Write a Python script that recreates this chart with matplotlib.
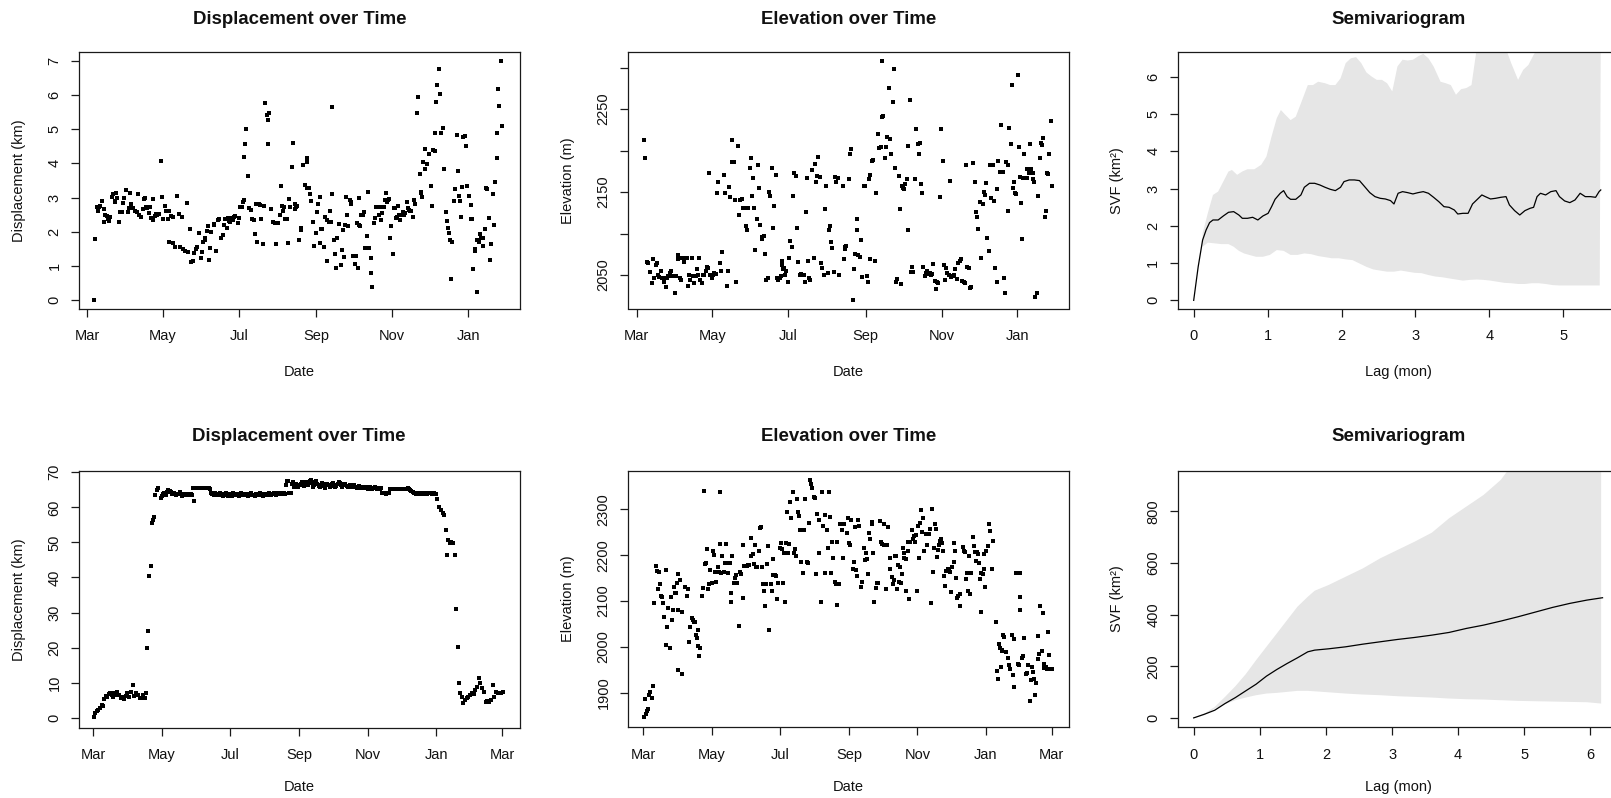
import numpy as np
import matplotlib
matplotlib.use("Agg")
import matplotlib.pyplot as plt
import matplotlib.dates as mdates

plt.rcParams['font.family'] = ['Liberation Sans', 'DejaVu Sans']

W, H = 1611, 798
START = np.datetime64('2021-03-01')

# ---------------- Data (days since 2021-03-01, value) ----------------
# Row 1: displacement (km)
disp_top = [(5.9,0.00),(6.7,1.80),(7.8,2.73),(9.4,2.73),(10.4,2.76),(8.8,2.62),(12.0,2.90),(13.4,2.66),(13.9,2.29),(14.7,2.49),(17.1,2.37),(15.8,2.47),(18.7,2.44),(17.7,2.32),(20.1,3.03),(21.1,3.10),(23.3,3.14),(22.7,2.86),(22.2,2.90),(24.1,3.00),(25.4,2.29),(26.8,2.59),(28.1,2.57),(29.2,2.84),(30.0,2.98),(31.3,3.22),(32.6,2.59),(33.4,2.69),(34.5,3.14),(35.6,2.82),(37.2,2.69),(38.3,2.62),(39.9,2.59),(40.9,3.10),(42.0,2.49),(43.3,2.42),(44.7,2.67),(45.7,2.96),(46.5,3.00),(47.3,2.73),(48.2,2.69),(49.5,2.54),(50.6,2.71),(51.6,2.39),(52.7,2.96),(53.2,2.33),(54.3,2.47),(55.4,2.51),(56.4,2.49),(57.5,2.51),(59.1,4.07),(60.2,3.02),(61.3,2.37),(62.3,2.74),(63.4,2.62),(64.7,2.37),(66.1,2.62),(67.7,2.47),(68.8,2.44),(72.2,3.06),(73.6,2.51),(76.2,2.44),(80.3,2.85),(65.5,1.71),(68.8,1.68),(70.6,1.56),(74.6,1.55),(77.3,1.49),(78.4,1.44),(81.1,1.42),(82.4,2.08),(83.5,1.10),(84.8,1.14),(86.1,1.37),(87.5,1.49),(88.5,1.55),(90.1,1.96),(91.2,1.22),(92.3,1.42),(93.4,1.71),(94.4,1.81),(95.0,1.76),(96.0,2.03),(97.1,2.17),(98.2,1.18),(99.0,1.51),(99.5,2.00),(101.6,2.23),(102.2,2.20),(103.5,1.44),(104.9,2.34),(105.7,2.36),(107.8,1.81),(108.9,1.90),(109.7,2.20),(110.5,2.36),(112.1,2.10),(112.9,2.39),(114.2,2.32),(115.0,2.29),(116.1,2.41),(116.9,2.34),(118.2,2.44),(119.0,2.47),(120.9,2.25),(121.7,2.39),(122.8,2.73),(124.1,2.73),(124.9,2.88),(125.7,2.93),(125.7,4.19),(126.8,4.56),(127.9,5.01),(128.9,3.63),(130.3,2.69),(131.3,2.64),(132.4,2.37),(133.8,2.34),(135.1,1.92),(135.6,2.80),(136.7,1.71),(137.8,2.80),(139.1,2.78),(139.9,2.36),(141.0,1.64),(142.3,2.76),(143.1,5.78),(144.2,5.42),(145.5,5.28),(146.3,5.49),(145.5,4.56),(147.7,2.66),(149.0,2.28),(150.9,2.25),(151.7,1.63),(152.5,2.25),(153.3,2.25),(154.9,2.49),(155.4,3.34),(156.5,2.76),(157.0,2.62),(158.1,2.71),(159.2,2.37),(160.2,2.37),(161.3,1.68),(162.4,2.95),(162.9,2.73),
(164.5,3.91),(165.6,4.60),(167.2,2.82),(168.0,2.73),(166.7,2.66),(168.8,2.76),(170.1,1.76),(171.5,2.12),(172.0,2.05),(173.4,3.96),(175.2,3.37),(176.3,4.03),(176.8,4.15),(176.3,3.29),(177.9,3.27),(178.7,3.11),(180.0,2.90),(181.4,2.29),(182.2,1.59),(183.5,1.95),(184.9,2.59),(185.4,2.82),(186.7,3.03),(187.3,1.68),(188.1,2.09),(188.9,2.09),(190.2,1.56),(191.3,2.44),(192.4,1.14),(192.9,2.33),(194.7,2.62),(193.9,2.29),(196.1,2.29),(196.9,3.10),(196.9,5.65),(198.0,1.76),(198.8,1.35),(200.1,0.95),(200.9,1.81),(202.0,2.23),(203.6,1.03),(204.7,1.47),(205.7,2.05),(206.3,1.27),(206.8,2.20),(208.1,3.03),(208.9,2.49),(209.5,2.17),(211.1,2.93),(211.6,2.88),(212.2,2.80),(213.5,1.28),(214.8,1.28),(216.1,1.28),(214.8,1.05),(217.5,0.95),(216.7,2.26),(218.0,2.20),(218.8,2.17),(218.0,2.98),(220.2,2.49),(221.2,2.49),(222.3,2.59),(223.4,1.51),(224.4,1.88),(225.5,3.15),(226.6,1.51),(227.6,1.24),(227.6,0.78),(228.7,0.37),(230.3,2.25),(231.4,2.39),(232.2,2.73),(233.5,2.73),(234.1,2.49),(234.9,2.73),(236.2,2.33),(236.8,2.54),(238.4,2.73),(238.9,2.93),(240.0,3.14),(240.5,2.88),(241.6,2.93),(242.6,2.96),(243.2,1.81),(244.2,2.17),(245.3,1.35),(246.4,2.69),(247.5,2.69),(248.3,2.39),(249.0,2.44),(249.6,2.76),(250.7,2.49),(251.2,2.34),(252.3,2.49),(253.3,2.57),(254.4,2.49),(255.5,2.54),(256.5,2.86),(257.6,2.69),(258.2,2.64),(259.2,2.62),(260.3,2.62),(261.4,2.43),(262.4,2.93),(263.2,2.80),(264.8,5.49),(265.6,5.94),(267.0,3.68),(267.8,3.17),(268.3,3.13),(268.9,3.03),(269.9,4.03),(271.0,3.83),(271.6,4.42),(273.2,3.98),(274.2,4.29),(275.8,3.34),(276.9,2.76),(278.0,4.38),(279.1,4.35),(279.1,4.88),(280.1,5.81),(281.2,6.30),(282.3,6.76),(283.3,6.03),(284.4,4.88),(285.7,5.05),(286.8,3.83),(287.9,2.59),(288.9,2.32),(289.7,2.12),(290.8,1.95),(291.6,1.76),(292.4,0.62),(293.2,1.71),(294.5,2.90),(295.6,3.25),(296.7,4.83),(297.8,3.79),(298.8,3.06),(299.4,2.90),(300.2,2.44),(301.0,3.30),(302.1,4.76),(303.1,4.80),(304.2,4.52),(305.3,3.34),(306.6,3.06),(307.9,2.78),(308.5,2.37),(309.3,2.37),(310.1,0.91),(311.2,1.44),(311.7,1.49),(312.8,1.76),(313.3,0.24),(314.4,1.71),(315.4,1.92),(316.5,1.81),(317.6,1.81),(318.1,1.59),(319.2,2.07),(320.2,3.29),(321.3,3.25),(322.4,2.41),(323.2,1.18),(324.5,1.63),(325.6,3.10),(326.6,2.20),(327.7,3.47),(328.8,4.15),(328.8,4.88),(329.8,6.18),(330.9,5.68),(332.0,7.00),(333.3,5.09)]

# Row 1: elevation (m)
elev_top = [(6.0,2212.4),(6.8,2190.7),(8.2,2066.1),(9.5,2064.1),(10.8,2053.2),(12.2,2040.0),(13.5,2068.9),(14.3,2046.8),(15.4,2062.1),(16.2,2064.1),(17.0,2050.0),(18.1,2047.2),(19.4,2055.2),(20.8,2046.0),(21.8,2046.8),(22.4,2041.2),(23.4,2035.1),(24.5,2046.0),(25.6,2048.8),(26.6,2052.8),(27.7,2054.8),(28.8,2049.2),(29.9,2049.2),(30.9,2028.7),(32.0,2049.2),(33.1,2074.1),(33.6,2068.9),(34.7,2046.0),(35.7,2044.0),(36.8,2070.9),(37.9,2066.1),(39.0,2070.9),(40.3,2070.9),(41.1,2037.1),(42.2,2050.0),(43.0,2044.0),(44.3,2070.1),(45.6,2049.2),(46.5,2040.8),(47.5,2049.2),(48.3,2057.2),(49.1,2050.0),(50.2,2070.9),(51.3,2044.0),(52.3,2040.8),(53.4,2050.0),(54.5,2050.0),(55.6,2055.2),(56.6,2060.0),(57.2,2058.0),(58.2,2172.6),(59.0,2050.0),(60.4,2046.0),(61.4,2050.0),(62.5,2052.0),(63.6,2050.8),(64.7,2149.3),(65.7,2162.5),(67.1,2064.1),(67.9,2055.2),(68.9,2077.3),(70.0,2170.6),(71.1,2149.3),(72.4,2037.1),(73.8,2055.2),(74.3,2155.7),(75.4,2143.6),(76.4,2212.4),(77.0,2185.9),(78.0,2185.9),(79.1,2140.4),(80.2,2042.0),(81.3,2205.9),(82.3,2122.3),(83.4,2140.8),(84.5,2141.6),(85.5,2130.4),(86.6,2130.4),(87.7,2109.1),(88.8,2104.3),(89.8,2130.4),(90.9,2179.4),(91.9,2190.7),(92.5,2145.7),(93.6,2166.6),(94.1,2130.4),(95.2,2080.5),(96.5,2117.5),(97.3,2182.6),(98.4,2154.5),(99.2,2110.3),(100.5,2093.4),(101.1,2096.2),(102.1,2097.4),(103.2,2075.3),(104.3,2044.0),(105.4,2046.0),(106.4,2150.5),(107.5,2145.7),(108.6,2179.4),(109.9,2107.1),(110.7,2133.6),(111.8,2170.6),(112.9,2046.0),(113.9,2044.0),(115.0,2046.8),(116.1,2048.8),(116.6,2062.1),(117.1,2066.9),(117.9,2057.2),(118.7,2058.8),(119.3,2050.0),(120.3,2054.8),(121.4,2042.0),(122.5,2070.9),(123.6,2091.0),(124.6,2084.2),(125.4,2145.7),(126.8,2172.6),(127.8,2169.8),(128.9,2106.3),(130.0,2065.3),(131.1,2050.0),(132.1,2050.8),(133.2,2050.0),(134.3,2050.0),(135.3,2042.0),(135.9,2125.6),(136.7,2167.4),(137.5,2066.9),(138.6,2046.8),(139.6,2043.6),(140.7,2176.6),(142.3,2070.9),(143.4,2184.2),(144.5,2162.5),(145.0,2169.8),(146.1,2192.3),(147.1,2167.8),(148.2,2064.1),(149.3,2058.8),(150.3,2050.0),(151.4,2129.2),(152.5,2157.7),(153.5,2052.0),(154.6,2104.3),(155.7,2109.1),(156.2,2090.2),(157.3,2082.2),(158.9,2054.0),(159.4,2167.8),(160.5,2161.7),(162.1,2167.4),(162.7,2050.0),
(165.9,2157.3),(167.2,2080.9),(168.5,2085.0),(166.7,2068.9),(167.7,2084.2),(170.4,2165.4),(171.5,2195.9),(172.5,2202.3),(173.6,2019.9),(174.7,2057.2),(175.8,2075.3),(177.1,2117.5),(177.1,2103.9),(177.9,2074.1),(179.3,2072.1),(180.3,2092.2),(181.4,2047.2),(182.7,2157.7),(183.8,2157.7),(184.9,2049.2),(186.0,2042.0),(187.0,2165.4),(187.8,2170.6),(187.3,2068.9),(189.4,2187.5),(190.2,2189.1),(191.3,2066.9),(192.6,2149.3),(193.7,2219.6),(195.0,2202.7),(196.1,2204.7),(196.9,2240.9),(197.7,2242.1),(196.9,2308.0),(199.3,2190.7),(200.6,2204.7),(201.5,2216.0),(202.6,2275.9),(203.6,2214.0),(204.7,2195.9),(206.0,2259.0),(206.8,2298.0),(207.4,2179.4),(208.4,2042.0),(209.2,2045.2),(210.6,2169.4),(211.4,2129.2),(212.7,2038.7),(213.5,2157.3),(214.3,2154.5),(215.1,2153.7),(215.9,2159.3),(217.0,2165.8),(217.8,2103.9),(218.0,2205.9),(219.4,2261.0),(220.7,2054.0),(222.1,2054.0),(221.3,2060.0),(223.4,2165.8),(224.8,2226.0),(226.1,2207.6),(227.2,2195.9),(228.0,2209.6),(228.3,2159.3),(229.3,2149.3),(230.4,2060.0),(231.5,2049.2),(232.8,2052.0),(233.6,2054.8),(234.1,2050.8),(235.5,2052.0),(236.3,2050.0),(237.4,2050.8),(238.2,2063.3),(239.5,2043.2),(240.3,2033.1),(241.1,2042.0),(242.2,2040.0),(243.5,2144.5),(244.8,2226.0),(246.2,2187.5),(247.0,2062.1),(248.0,2044.0),(248.9,2058.0),(249.7,2052.8),(251.0,2050.0),(251.8,2163.7),(252.9,2048.0),(254.2,2048.8),(255.0,2050.0),(256.1,2057.2),(257.2,2045.2),(258.2,2064.9),(259.6,2066.9),(260.9,2068.9),(261.7,2043.2),(263.0,2042.0),(264.1,2040.0),(264.9,2182.6),(265.7,2060.0),(266.8,2058.0),(268.1,2033.9),(268.9,2035.1),(270.3,2185.5),(271.6,2162.5),(272.7,2125.6),(273.8,2120.3),(274.3,2105.5),(275.6,2138.4),(277.0,2070.9),(278.0,2135.2),(279.1,2150.5),(279.6,2146.5),(280.7,2160.5),(281.5,2094.2),(282.8,2078.9),(283.9,2182.6),(285.0,2182.6),(286.1,2182.6),(285.0,2142.4),(287.1,2139.2),(288.2,2058.8),(289.3,2153.7),(289.8,2042.0),(290.6,2187.5),(291.7,2174.6),(292.5,2230.9),(293.0,2174.6),(294.4,2174.6),(295.2,2046.8),(296.0,2028.7),(297.0,2185.9),(298.4,2182.6),(298.4,2127.6),(299.5,2227.7),(300.5,2207.6),(301.6,2279.1),(302.2,2155.3),(303.2,2162.5),(303.8,2149.3),(305.1,2147.3),(306.4,2291.2),(306.9,2204.3),(308.0,2168.6),(309.1,2137.2),(309.6,2093.8),(310.7,2166.6),(311.5,2195.9),(312.3,2166.6),(313.4,2167.4),(313.9,2177.4),(315.0,2172.6),(315.8,2207.6),(317.1,2177.4),(318.2,2165.4),(318.7,2172.6),(319.3,2162.5),(320.3,2023.9),(321.4,2028.7),(322.5,2145.7),(323.8,2190.7),(324.6,2209.6),(325.7,2206.8),(326.8,2214.8),(327.8,2120.3),(328.9,2127.6),(330.0,2173.4),(330.5,2171.4),(331.6,2195.9),(332.7,2235.7),(333.7,2157.7)]

# Row 1: semivariogram (lag in months, SVF in km^2)
svf_top_lag = [0,0.061,0.121,0.168,0.215,0.261,0.331,0.401,0.471,0.541,0.611,0.658,0.728,0.798,0.868,0.937,1.007,1.054,1.101,1.171,1.217,1.264,1.311,1.381,1.451,1.497,1.567,1.637,1.707,1.777,1.847,1.917,1.987,2.034,2.104,2.174,2.243,2.313,2.383,2.453,2.523,2.593,2.663,2.710,2.766,2.826,2.896,2.966,3.036,3.106,3.176,3.246,3.316,3.386,3.456,3.526,3.573,3.643,3.713,3.773,3.829,3.899,3.946,4.016,4.086,4.156,4.226,4.272,4.342,4.412,4.482,4.552,4.599,4.646,4.692,4.762,4.832,4.902,4.949,5.019,5.089,5.159,5.229,5.298,5.368,5.438,5.485,5.508]
svf_top = [0,0.904,1.621,1.889,2.087,2.158,2.158,2.266,2.364,2.382,2.292,2.203,2.203,2.230,2.158,2.266,2.337,2.516,2.713,2.875,2.946,2.785,2.713,2.713,2.830,3.036,3.143,3.143,3.098,3.036,2.982,2.946,3.036,3.188,3.233,3.233,3.215,3.054,2.892,2.785,2.740,2.722,2.678,2.588,2.875,2.919,2.892,2.857,2.892,2.919,2.875,2.767,2.651,2.516,2.498,2.427,2.319,2.337,2.337,2.588,2.695,2.830,2.785,2.722,2.740,2.767,2.785,2.561,2.409,2.292,2.409,2.472,2.498,2.785,2.875,2.830,2.919,2.946,2.785,2.669,2.624,2.695,2.875,2.785,2.785,2.767,2.919,2.964]
ci_top_hi_lag = [0.121,0.191,0.261,0.331,0.401,0.471,0.518,0.588,0.658,0.728,0.821,0.914,0.984,1.054,1.124,1.180,1.241,1.311,1.381,1.451,1.544,1.614,1.684,1.777,1.847,1.917,1.987,2.057,2.127,2.197,2.267,2.337,2.407,2.477,2.547,2.617,2.687,2.757,2.826,2.896,2.966,3.036,3.106,3.176,3.246,3.340,3.410,3.479,3.549,3.619,3.689,3.759,3.829,3.923,4.039,4.156,4.226,4.296,4.389,4.459,4.529,4.599,4.669,4.762,4.949,5.136,5.508]
ci_top_hi = [1.80,2.34,2.83,2.92,3.19,3.46,3.50,3.37,3.46,3.52,3.52,3.64,3.86,4.40,4.89,5.11,4.98,4.84,4.93,5.29,5.78,5.78,5.87,5.83,5.78,5.78,5.96,6.37,6.50,6.53,6.37,6.12,6.01,5.92,5.92,5.83,5.61,6.28,6.46,6.44,6.46,6.55,6.62,6.50,6.28,5.87,5.83,5.78,5.52,5.67,5.70,5.78,6.75,7.00,7.20,7.00,6.75,6.37,5.92,6.19,6.32,6.59,6.80,7.00,7.20,7.20,7.20]
ci_top_lo_lag = [0.121,0.191,0.285,0.378,0.471,0.541,0.611,0.681,0.751,0.844,0.937,1.031,1.124,1.217,1.311,1.404,1.497,1.590,1.684,1.777,1.870,1.964,2.057,2.150,2.243,2.337,2.430,2.523,2.617,2.710,2.803,2.896,2.990,3.083,3.176,3.270,3.363,3.456,3.549,3.643,3.736,3.829,3.923,4.016,4.109,4.203,4.296,4.389,4.482,4.576,4.669,4.762,4.856,4.949,5.136,5.322,5.494]
ci_top_lo = [1.44,1.55,1.53,1.51,1.51,1.44,1.33,1.26,1.22,1.17,1.17,1.22,1.35,1.33,1.22,1.22,1.26,1.24,1.19,1.16,1.13,1.13,1.10,1.08,0.99,0.90,0.83,0.80,0.77,0.77,0.80,0.77,0.74,0.73,0.68,0.64,0.62,0.59,0.56,0.53,0.55,0.56,0.55,0.53,0.50,0.47,0.46,0.44,0.44,0.46,0.46,0.44,0.41,0.40,0.40,0.40,0.40]

# Row 2: displacement (km)
disp_bot = [(0.6,0.29),(1.8,1.24),(3.1,2.00),(4.3,2.19),(5.8,2.66),(7.4,3.61),(8.3,3.33),(9.8,5.23),(11.4,6.18),(12.6,5.99),(13.8,6.75),(15.1,6.94),(16.3,6.47),(17.5,5.99),(18.8,7.13),(20.0,6.47),(21.2,7.42),(22.8,6.47),(24.3,5.52),(25.8,5.99),(27.4,5.23),(28.9,6.18),(30.4,6.94),(32.0,5.99),(33.5,7.42),(35.1,9.32),(36.6,6.18),(38.1,6.94),(39.7,6.47),(41.2,5.52),(42.7,5.52),(44.3,6.47),(45.8,5.52),(47.0,6.94),(47.7,19.97),(48.9,24.73),(49.8,40.52),(51.0,43.37),(52.0,55.45),(52.9,56.40),(53.8,57.16),(55.0,63.53),(56.6,64.96),(58.1,65.44),(89.8,61.9),
(307.2,62.39),(308.7,60.01),(310.3,59.25),(311.8,58.30),(312.7,57.83),(314.9,53.55),(315.8,46.41),(317.0,50.69),(318.3,49.74),(319.5,50.22),(321.0,49.74),(322.6,46.41),(324.1,31.01),(325.6,20.26),(326.6,9.80),(327.5,7.13),(328.7,5.99),(330.3,4.09),(331.8,5.04),(333.3,5.52),(334.9,5.99),(336.4,6.47),(337.9,6.94),(339.5,6.75),(341.0,7.89),(342.6,8.85),(344.1,11.22),(345.6,9.80),(347.2,8.37),(348.7,7.42),(350.2,4.57),(351.8,4.76),(353.3,4.57),(354.9,5.04),(356.4,9.32),(357.9,5.99),(359.5,7.42),(361.0,7.13),(362.6,6.94),(364.1,7.13),(365.6,7.42)]
# daily fixes on the summer range plateau, starting on day 60
plateau_start = 60
plateau_km = [62.6,63.1,63.8,64.2,64.0,63.5,64.5,65.0,64.8,64.5,63.8,64.0,64.0,63.7,63.5,63.7,63.7,64.5,63.7,63.3,63.7,63.9,63.7,63.5,63.8,63.8,63.6,63.8,63.6,
 65.6,65.6,65.5,65.6,65.6,65.6,65.5,65.6,65.6,65.6,65.6,65.5,65.6,65.6,65.4,65.2,
 64.0,63.8,63.9,63.6,64.1,63.7,63.5,63.8,64.2,63.4,63.9,63.2,63.6,64.0,63.8,63.1,63.5,63.9,63.7,63.3,64.0,63.8,63.5,63.6,63.9,63.2,63.7,64.1,63.8,63.4,63.6,63.9,63.7,63.3,63.5,63.8,64.0,63.6,63.4,63.2,63.7,63.9,63.5,63.8,64.0,63.6,63.3,63.7,63.9,63.5,63.8,63.6,64.1,63.7,63.5,63.9,64.0,63.8,63.6,63.7,64.0,63.9,63.8,64.1,63.9,64.0,63.8,
 66.5,67.6,67.4,64.2,64.0,66.8,67.2,65.8,66.2,
 66.8,66.2,65.9,66.5,66.8,67.1,66.4,66.0,66.6,67.3,67.0,66.5,67.5,67.8,66.9,65.8,66.4,67.2,67.6,66.8,66.2,65.9,66.5,67.0,66.7,66.1,65.6,66.3,66.8,66.4,65.9,66.2,66.7,67.0,66.5,65.8,66.1,66.6,67.2,66.9,66.3,65.9,66.4,66.8,66.6,66.0,65.7,66.2,66.5,66.1,65.8,66.0,66.3,65.9,65.6,65.8,66.1,65.7,65.5,65.8,
 65.6,65.4,65.8,65.5,65.3,65.6,65.9,65.4,65.2,65.5,65.7,65.4,65.3,65.6,65.5,65.3,65.4,
 64.1,64.0,64.0,63.9,64.0,64.1,64.0,
 65.3,65.3,65.2,65.3,65.3,65.3,65.3,65.2,65.3,65.3,65.3,65.3,65.2,65.3,65.3,65.3,65.4,65.2,65.0,64.8,64.5,64.2,
 64.0,63.9,64.0,64.1,63.9,64.0,64.0,63.8,64.0,64.1,64.0,63.9,64.0,64.0,64.1,63.9,64.0,64.0,63.8,63.9]

# Row 2: elevation (m)
elev_bot = [(0.6,1847.7),(2.1,1854.9),(3.0,1860.0),(3.9,1865.8),(1.5,1886.2),(5.1,1894.9),(6.0,1902.2),(7.4,1889.8),(8.9,1914.5),(9.8,2095.6),(11.3,2177.0),(12.2,2165.4),(14.0,2162.5),(15.2,2137.7),(12.8,2125.4),(15.8,2110.8),(16.4,2107.9),(17.9,2096.3),(18.8,2064.3),(19.9,2167.5),(19.9,2004.0),(21.1,2043.9),(22.3,2083.9),(23.8,1998.1),(24.7,2107.9),(25.3,2058.5),(26.5,2080.3),(27.7,2131.2),(28.3,2118.1),(28.9,2116.6),(29.8,2138.5),(30.7,2158.8),(31.3,2080.3),(31.3,1950.2),(32.7,2145.7),(34.2,2075.2),(34.8,1940.7),(37.2,2131.2),(38.7,2110.8),(40.2,2125.4),(40.8,2011.2),(42.0,2042.5),(43.2,2062.1),(44.3,2058.5),(45.5,2054.9),(46.1,2053.4),(46.7,2027.2),(47.6,2018.5),(48.5,2036.7),(49.1,2001.8),(49.7,1980.0),(50.9,1998.1),(52.1,2110.8),(53.0,2129.0),(54.5,2339.8),(55.1,2179.9),(56.3,2182.8),(57.4,2212.6),(58.0,2125.4),(59.2,2137.0),(59.8,2166.8),(61.0,2139.9),(62.2,2209.0),(63.4,2200.3),(64.0,2162.5),(65.2,2140.6),(66.4,2174.8),(67.6,2162.5),(68.5,2225.0),(68.5,2336.9),(69.9,2160.3),(70.8,2198.1),(72.0,2163.9),(72.9,2182.8),(74.1,2225.0),(74.7,2182.8),(75.9,2160.3),(77.1,2182.8),(78.3,2116.6),(78.3,2098.5),(79.5,2198.1),(80.7,2139.9),(81.8,2150.8),(83.0,2156.6),(84.2,2139.9),(85.7,2046.1),(86.6,2162.5),(87.8,2158.8),(89.0,2107.2),(89.3,2222.1),(90.2,2177.0),(91.4,2177.0),(92.6,2177.0),(93.8,2178.4),(94.9,2178.4),(96.1,2238.1),(96.7,2198.1),(97.9,2201.7),(99.1,2179.9),(100.3,2222.1),(101.2,2174.1),(102.1,2174.1),(103.3,2209.0),(103.9,2258.4),(105.1,2261.3),(105.7,2174.1),(106.8,2137.7),(108.0,2121.7),(108.6,2089.0),(109.5,2137.7),(111.0,2179.9),(111.6,2219.9),(112.8,2038.1),(114.0,2137.7),(115.2,2121.7),(115.8,2191.5),(116.4,2156.6),(117.6,2156.6),(119.0,2155.2),(119.9,2103.6),(120.5,2139.9),(122.0,2216.2),(122.9,2227.2),(124.1,2213.3),(125.3,2139.9),(125.9,2203.9),(126.5,2098.5),(127.7,2227.2),(128.9,2294.8),(129.5,2205.3),(130.7,2225.0),(131.3,2316.6),(132.4,2281.7),(133.6,2336.9),(134.8,2205.3),(136.0,2213.3),(136.6,2198.1),(137.8,2322.4),(138.4,2294.8),(139.0,2286.0),(140.2,2254.8),(141.4,2185.7),(142.6,2161.7),(143.8,2254.8),(144.9,2322.4),(146.1,2185.7),(147.3,2183.5),(147.9,2270.8),(149.1,2364.6),(150.3,2354.4),(151.2,2345.7),(152.7,2326.0),(153.9,2323.9),(154.8,2158.1),(155.7,2288.9),(156.8,2203.9),(157.4,2276.6),(158.6,2098.5),(159.8,2336.9),(161.0,2264.2),(162.2,2161.7),(162.8,2287.5),(164.0,2254.8),(165.2,2216.2),(165.8,2336.9),(167.0,2282.4),(168.2,2161.7),(168.8,2227.9),(169.9,2194.4),(171.1,2142.1),(172.3,2136.3),(173.5,2091.2),(173.5,2227.9),(174.7,2137.0),(175.6,2267.1),
(176.8,2267.1),(178.3,2267.1),(179.8,2267.1),(177.4,2254.8),(178.3,2194.4),(182.2,2249.0),(183.4,2280.2),(184.3,2225.7),(185.2,2222.1),(185.7,2276.6),(188.1,2185.7),(189.3,2262.0),(187.2,2169.0),(190.2,2167.5),(191.1,2155.2),(193.2,2264.2),(192.3,2276.6),(194.7,2131.2),(195.6,2140.6),(197.1,2216.2),(198.2,2189.4),(199.2,2203.9),(200.0,2191.5),(200.6,2158.8),(202.1,2247.5),(203.0,2234.4),(204.2,2268.6),(204.8,2271.5),(205.4,2203.9),(206.6,2098.5),(208.1,2127.6),(209.0,2138.5),(209.6,2139.9),(211.3,2274.4),(212.5,2227.9),(213.7,2223.5),(214.9,2268.6),(215.5,2222.1),(217.0,2125.4),(217.9,2222.1),(219.1,2262.0),(220.3,2194.4),(220.8,2169.7),(222.1,2151.5),(222.9,2137.7),(223.8,2145.7),(225.0,2198.1),(226.2,2198.1),(226.8,2125.4),(228.0,2178.4),(228.9,2142.1),(229.8,2174.8),(230.4,2139.9),(231.0,2158.8),(231.9,2216.2),(232.8,2194.4),(233.4,2205.3),(234.6,2190.8),(235.2,2121.7),(236.4,2209.0),(237.0,2227.9),(237.8,2104.3),(238.7,2229.3),(239.9,2254.8),(241.1,2234.4),(242.3,2241.7),(242.9,2227.9),(243.8,2243.9),(244.7,2121.7),(245.3,2264.2),(246.5,2194.4),(247.7,2269.3),(248.3,2297.7),(248.8,2251.1),(250.0,2281.7),(251.2,2209.0),(252.4,2245.3),(253.6,2222.1),(254.8,2246.1),(255.7,2246.1),(256.0,2256.2),(257.2,2094.8),(257.8,2300.6),(258.7,2162.5),(259.5,2214.8),(260.7,2267.1),(261.6,2256.2),(262.5,2196.6),(263.1,2211.2),(264.6,2222.1),(265.5,2231.5),(266.1,2234.4),(266.7,2225.7),(267.9,2209.0),(269.1,2155.2),(269.7,2133.4),(270.9,2165.4),(272.1,2169.0),(273.3,2165.4),(274.4,2163.9),(275.0,2120.3),(276.2,2173.4),(277.4,2185.7),(278.0,2225.7),(278.6,2209.7),(279.8,2149.4),(280.3,2105.7),(281.5,2111.6),(282.7,2114.5),(283.3,2089.0),(285.7,2218.4),(286.3,2209.0),(287.5,2206.1),(288.4,2147.9),(289.3,2160.3),(289.9,2122.5),(291.1,2198.8),(292.3,2114.5),(292.9,2160.3),(294.4,2240.2),(295.8,2219.9),(296.4,2206.1),(297.6,2187.2),(298.2,2206.1),(299.4,2201.7),(300.3,2182.1),(301.2,2147.9),(301.8,2160.3),(301.8,2076.7),(303.3,2158.1),(304.2,2169.0),(304.8,2201.7),(305.7,2131.2),(306.6,2209.0),(307.8,2219.9),(309.2,2267.9),(310.1,2252.6),(311.3,2169.7),(312.2,2230.8),(315.5,2053.4),(316.1,1947.3),(316.7,1931.3),(317.9,2006.1),(319.1,1998.1),(319.7,1956.7),(320.3,1990.9),(320.9,1994.5),(321.8,2027.2),(322.6,2022.1),(324.1,1989.4),(325.6,1976.3),(326.8,1960.3),(328.0,1953.1),(329.2,2027.2),(330.4,1940.0),(331.6,2017.0),(331.6,1913.1),(333.0,2161.7),(336.3,2161.7),(334.5,1964.0),(335.7,1961.8),(336.9,2109.4),(336.3,2080.3),(338.1,1976.3),(339.3,1980.0),(340.5,2020.0),(341.7,1942.2),(342.9,1943.6),(344.1,1960.3),(345.3,1881.8),(346.5,1927.6),(347.1,1956.7),(348.0,1945.8),(348.8,1931.3),(350.0,1894.9),(351.2,1922.5),(352.4,2024.3),(353.0,1974.9),(353.9,1985.8),(354.8,2089.0),(356.0,1990.9),(356.9,2073.0),(357.8,1954.5),(358.4,1964.0),(359.6,1956.7),(360.8,1951.6),(362.0,2031.6),(362.5,1982.2),(363.7,1951.6),(364.9,1951.6)]

# Row 2: semivariogram
svf_bot_lag = [0,0.162,0.318,0.474,0.631,0.787,0.944,1.100,1.257,1.413,1.569,1.726,1.830,2.039,2.299,2.560,2.821,3.081,3.342,3.603,3.863,4.124,4.385,4.645,4.906,5.167,5.428,5.688,5.949,6.184]
svf_bot = [0,14.2,29.7,55.6,78.8,104.7,130.5,161.6,187.4,210.7,232.6,255.9,262.4,267.5,275.3,285.6,294.7,303.7,311.5,320.5,330.9,346.4,359.3,374.8,391.6,409.7,427.8,443.3,456.2,465.3]
ci_bot_hi_lag = [0.0,0.162,0.318,0.474,0.631,0.787,0.944,1.100,1.257,1.413,1.569,1.726,1.830,2.039,2.299,2.560,2.821,3.081,3.342,3.603,3.863,4.124,4.385,4.645,4.750,4.906,5.428,6.163]
ci_bot_hi = [0.0,16.8,42.6,81.4,122.8,169.3,223.6,275.3,327.0,378.7,430.4,469.1,492.4,514.4,546.7,579.0,617.8,650.1,682.4,717.3,772.9,818.1,863.3,921.5,957.7,999.0,1102.0,1232.0]
ci_bot_lo_lag = [0.0,0.162,0.318,0.474,0.631,0.787,0.944,1.100,1.257,1.413,1.569,1.726,1.882,2.091,2.299,2.560,2.821,3.081,3.342,3.603,3.863,4.124,4.385,4.645,4.906,5.167,5.428,5.688,5.949,6.163]
ci_bot_lo = [0.0,10.3,36.2,53.0,68.5,78.8,87.9,94.3,96.9,100.8,104.7,104.7,102.1,98.2,94.3,90.5,87.9,84.0,81.4,78.8,75.0,72.4,71.1,68.5,65.9,64.6,63.3,62.0,60.7,55.6]

month_ticks = [1, 3, 5, 7, 9, 11]

# ---------------- Layout helpers ----------------
fig = plt.figure(figsize=(W / 100, H / 100), dpi=100)
TXT = '#111111'
LAB = 10.5
TIT = 13.4
DOT = 2.2


def add_box(x0, y0, x1, y1):
    return fig.add_axes([x0 / W, 1 - y1 / H, (x1 - x0) / W, (y1 - y0) / H])


def ftext(x, y, s, **kw):
    fig.text(x / W, 1 - y / H, s, ha='center', va='center', color=TXT, **kw)


def style(ax, box, title, xlabel, ylabel, title_y, xlab_y):
    x0, y0, x1, y1 = box
    for sp in ax.spines.values():
        sp.set_linewidth(0.9)
        sp.set_color('#1a1a1a')
    ax.tick_params(axis='both', direction='out', length=5.8, width=0.9,
                   color='#1a1a1a', labelsize=LAB, labelcolor=TXT)
    ax.tick_params(axis='x', pad=9.0)
    ax.tick_params(axis='y', pad=6.6)
    for lab in ax.get_yticklabels():
        lab.set_rotation(90)
        lab.set_va('center')
    cx = (x0 + x1) / 2
    ftext(cx, title_y, title, fontsize=TIT, fontweight='bold')
    ftext(cx, xlab_y, xlabel, fontsize=LAB)
    ftext(x0 - 60, (y0 + y1) / 2, ylabel, fontsize=LAB, rotation=90)


def to_dates(days):
    return mdates.date2num(START) + np.asarray(days, dtype=float)


def date_axis(ax, d0, d1):
    ax.set_xlim(to_dates([d0])[0], to_dates([d1])[0])
    ax.xaxis.set_major_locator(mdates.MonthLocator(bymonth=month_ticks))
    ax.xaxis.set_major_formatter(mdates.DateFormatter('%b'))


def dots(ax, days, vals):
    ax.plot(to_dates(days), vals, ls='none', marker='s', ms=DOT, mew=0, color='black')


def dots_pairs(ax, pts):
    dots(ax, [p[0] for p in pts], [p[1] for p in pts])


def band(ax, hl, hv, ll, lv):
    xs = list(hl) + list(ll)[::-1]
    ys = list(hv) + list(lv)[::-1]
    ax.fill(xs, ys, color='#e6e6e6', lw=0, zorder=1)


# ---------------- Panel boxes (pixels) ----------------
B1 = (78.7, 52.3, 520.0, 308.5)
B2 = (627.7, 52.3, 1069.0, 308.5)
B3 = (1177.5, 52.3, 1618.8, 308.7)
B4 = (78.6, 471.0, 519.9, 727.7)
B5 = (627.7, 471.0, 1069.0, 727.2)
B6 = (1177.5, 471.0, 1618.8, 727.2)

# Panel 1
ax = add_box(*B1)
dots_pairs(ax, disp_top)
date_axis(ax, -6.66, 347.5)
ax.set_ylim(-0.249, 7.255)
ax.set_yticks(range(0, 8))
style(ax, B1, 'Displacement over Time', 'Date', 'Displacement (km)', 19, 372)

# Panel 2
ax = add_box(*B2)
dots_pairs(ax, elev_top)
date_axis(ax, -7.07, 347.4)
ax.set_ylim(2009.6, 2318.6)
yt = [2050, 2100, 2150, 2200, 2250, 2300]
ax.set_yticks(yt)
ax.set_yticklabels([str(v) if v in (2050, 2150, 2250) else '' for v in yt])
style(ax, B2, 'Elevation over Time', 'Date', 'Elevation (m)', 19, 372)

# Panel 3
ax = add_box(*B3)
band(ax, ci_top_hi_lag, ci_top_hi, ci_top_lo_lag, ci_top_lo)
ax.plot(svf_top_lag, svf_top, color='black', lw=0.9, zorder=2)
ax.set_xlim(-0.219, 5.752)
ax.set_ylim(-0.224, 6.66)
ax.set_xticks(range(0, 6))
ax.set_yticks(range(0, 7))
style(ax, B3, 'Semivariogram', 'Lag (mon)', 'SVF (km²)', 19, 372)

# Panel 4
ax = add_box(*B4)
dots_pairs(ax, disp_bot)
dots(ax, plateau_start + np.arange(len(plateau_km)), plateau_km)
date_axis(ax, -13.2, 380.8)
ax.set_ylim(-2.85, 70.37)
ax.set_yticks(range(0, 71, 10))
style(ax, B4, 'Displacement over Time', 'Date', 'Displacement (km)', 436.5, 787)

# Panel 5
ax = add_box(*B5)
dots_pairs(ax, elev_bot)
date_axis(ax, -13.9, 380.5)
ax.set_ylim(1825.2, 2383.5)
ax.set_yticks([1900, 2000, 2100, 2200, 2300])
style(ax, B5, 'Elevation over Time', 'Date', 'Elevation (m)', 436.5, 787)

# Panel 6
ax = add_box(*B6)
band(ax, ci_bot_hi_lag, ci_bot_hi, ci_bot_lo_lag, ci_bot_lo)
ax.plot(svf_bot_lag, svf_bot, color='black', lw=0.9, zorder=2)
ax.set_xlim(-0.245, 6.43)
ax.set_ylim(-36, 956)
ax.set_xticks(range(0, 7))
ax.set_yticks(range(0, 801, 200))
style(ax, B6, 'Semivariogram', 'Lag (mon)', 'SVF (km²)', 436.5, 787)

fig.savefig('out.png', dpi=100)
